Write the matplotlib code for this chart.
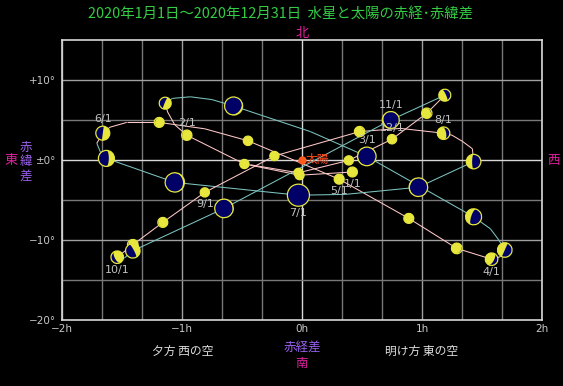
import numpy as np
import matplotlib
matplotlib.use("Agg")
import matplotlib.pyplot as plt
import matplotlib.transforms as mtransforms
from matplotlib.patches import Circle, Polygon
from matplotlib.collections import LineCollection

plt.rcParams['font.family'] = ['Noto Sans CJK JP', 'DejaVu Sans']

# Mercury on the 1st, 11th and 21st of each month
dates = ["1/1", "1/11", "1/21", "2/1", "2/11", "2/21", "3/1", "3/11", "3/21",
         "4/1", "4/11", "4/21", "5/1", "5/11", "5/21", "6/1", "6/11", "6/21",
         "7/1", "7/11", "7/21", "8/1", "8/11", "8/21", "9/1", "9/11", "9/21",
         "10/1", "10/11", "10/21", "11/1", "11/11", "11/21", "12/1", "12/11", "12/21"]
ra_diff = [0.42, -0.02, -0.48, -0.96, -1.14, -0.57, 0.54, 1.43, 1.69,
           1.58, 1.29, 0.89, 0.31, -0.45, -1.19, -1.66, -1.63, -1.06,
           -0.03, 0.97, 1.43, 1.18, 0.48, -0.23, -0.81, -1.16, -1.41,
           -1.54, -1.41, -0.65, 0.74, 1.19, 1.04, 0.75, 0.39, -0.03]
dec_diff = [-1.5, -1.9, -0.5, 3.1, 7.1, 6.75, 0.45, -7.1, -11.25,
            -12.4, -11.05, -7.3, -2.4, 2.4, 4.7, 3.35, 0.2, -2.8,
            -4.4, -3.4, -0.2, 3.35, 3.55, 0.5, -4.05, -7.8, -10.6,
            -12.15, -11.35, -6.05, 5.0, 8.1, 5.85, 2.6, -0.05, -1.6]
diam = [5.4, 4.9, 5.0, 5.6, 6.5, 9.8, 10.1, 8.7, 7.9,
        6.8, 5.8, 5.4, 5.4, 5.1, 5.4, 7.6, 8.7, 10.5,
        12.0, 10.1, 7.9, 6.8, 5.6, 5.0, 5.0, 5.4, 5.8,
        6.8, 7.9, 10.1, 9.2, 6.5, 5.6, 5.1, 5.0, 4.9]
illum = [1.0, 1.0, 1.0, 0.95, 0.55, 0.08, 0.03, 0.35, 0.5,
         0.7, 0.92, 0.97, 1.0, 1.0, 0.92, 0.5, 0.35, 0.08,
         0.0, 0.05, 0.4, 0.7, 0.95, 1.0, 1.0, 0.95, 0.88,
         0.7, 0.42, 0.05, 0.08, 0.6, 0.9, 0.97, 1.0, 1.0]

# daily track of Mercury
track_ra = [0.42, -0.02, -0.48, -0.96, -1.06, -1.12, -1.14, -1.08, -0.93, -0.75,
            -0.57, 0.07, 0.54, 1.43, 1.57, 1.64, 1.69, 1.65, 1.58, 1.29, 0.89,
            0.31, -0.45, -0.81, -1.19, -1.46, -1.6, -1.66, -1.71, -1.68, -1.63,
            -1.06, -0.03, 0.36, 0.97, 1.43, 1.42, 1.34, 1.25, 1.18, 0.82, 0.48,
            -0.23, -0.81, -1.16, -1.41, -1.54, -1.48, -1.41, -0.65, 0.74, 1.19,
            1.04, 0.75, 0.39, -0.03, -0.43]
track_dec = [-1.5, -1.9, -0.5, 3.1, 4.4, 6.0, 7.1, 7.7, 7.9, 7.55,
             6.75, 3.55, 0.45, -7.1, -8.6, -10.0, -11.25, -12.1, -12.4, -11.05, -7.3,
             -2.4, 2.4, 3.9, 4.7, 4.7, 4.1, 3.35, 2.1, 1.0, 0.2,
             -2.8, -4.4, -4.3, -3.4, -0.2, 1.4, 2.3, 3.1, 3.35, 3.95, 3.55,
             0.5, -4.05, -7.8, -10.6, -12.15, -12.25, -11.35, -6.05, 5.0, 8.1,
             5.85, 2.6, -0.05, -1.6, -0.6]

label_above = ["2/1", "3/1", "6/1", "8/1", "11/1", "12/1"]
label_below = ["1/1", "4/1", "5/1", "7/1", "9/1", "10/1"]

yellow = '#e6e63c'
navy = '#000066'
pink = '#ffc8c8'
teal = '#7cc4c0'

fig = plt.figure(figsize=(5.63, 3.86), dpi=100, facecolor='black')
ax = fig.add_axes([62/563, 66/386, 480/563, 280/386])
ax.set_facecolor('black')
ax.set_xlim(-2, 2)
ax.set_ylim(-20, 15)

# grid: every 20 min in RA, every 5 deg in dec
for gx in np.arange(-2, 2.01, 1/3):
    if abs(gx) < 1e-6:
        c = '#d8d8d8'
    elif abs(gx - round(gx)) < 1e-6:
        c = '#a0a0a0'
    else:
        c = '#787878'
    ax.axvline(gx, color=c, lw=1, zorder=1)
for gy in range(-15, 15, 5):
    if gy == 0:
        c = '#d8d8d8'
    elif gy % 10 == 0:
        c = '#a0a0a0'
    else:
        c = '#787878'
    ax.axhline(gy, color=c, lw=1, zorder=1)

for s in ax.spines.values():
    s.set_color('#d8d8d8')
    s.set_linewidth(1.2)

ax.set_xticks([-2, -1, 0, 1, 2])
ax.set_xticklabels(['−2h', '−1h', '0h', '1h', '2h'], family='DejaVu Sans')
ax.set_yticks([10, 0, -10, -20])
ax.set_yticklabels(['+10°', '±0°', '−10°', '−20°'], family='DejaVu Sans')
ax.tick_params(length=0, colors='#c8c8c8', labelsize=7.5)
ax.tick_params(axis='x', pad=3)
ax.tick_params(axis='y', pad=4)

# track, pink when moving toward the evening side, teal otherwise
pts = np.column_stack([track_ra, track_dec])
segs = [pts[i:i + 2] for i in range(len(pts) - 1)]
cols = [pink if track_ra[i + 1] < track_ra[i] else teal for i in range(len(pts) - 1)]
ax.add_collection(LineCollection(segs, colors=cols, linewidths=0.75, zorder=2))

# sun
ax.plot(0, 0, 'o', color='#ff5a1e', ms=6, mec='none', zorder=6)
ax.annotate('太陽', (0, 0), xytext=(4, 0), textcoords='offset pixels',
            color='#ff4a1a', fontsize=8.5, va='center', ha='left', zorder=7)

# Mercury with phases
th1 = np.linspace(-np.pi/2, np.pi/2, 40)
th2 = th1[::-1]
p_sun = ax.transData.transform((0, 0))
for x, d, dm, k, lab in zip(ra_diff, dec_diff, diam, illum, dates):
    r = dm * 0.92
    p = ax.transData.transform((x, d))
    ang = np.arctan2(p_sun[1] - p[1], p_sun[0] - p[0])
    tr = (mtransforms.Affine2D().scale(r).rotate(ang)
          + mtransforms.ScaledTranslation(x, d, ax.transData))
    ax.add_patch(Circle((0, 0), 1, transform=tr, facecolor=navy,
                        edgecolor='none', zorder=3))
    lit = np.concatenate([np.column_stack([np.cos(th1), np.sin(th1)]),
                          np.column_stack([-(2*k - 1)*np.cos(th2), np.sin(th2)])])
    if k > 0.01:
        ax.add_patch(Polygon(lit, closed=True, transform=tr, facecolor=yellow,
                             edgecolor='none', zorder=3))
    ax.add_patch(Circle((0, 0), 1, transform=tr, facecolor='none',
                        edgecolor=yellow, lw=0.9, zorder=3))
    if lab in label_above:
        ax.annotate(lab, (x, d), xytext=(0, r + 2), textcoords='offset pixels',
                    ha='center', va='bottom', color='#c0c0c0', fontsize=8,
                    family='DejaVu Sans', zorder=8)
    elif lab in label_below:
        ax.annotate(lab, (x, d), xytext=(0, -r - 2), textcoords='offset pixels',
                    ha='center', va='top', color='#c0c0c0', fontsize=8,
                    family='DejaVu Sans', zorder=8)

# surrounding texts
fig.text(281/563, 1 - 15/386, '2020年1月1日～2020年12月31日  水星と太陽の赤経･赤緯差',
         color='#33cc44', fontsize=10.4, ha='center', va='center')
fig.text(302/563, 1 - 33/386, '北', color='#e020a0', fontsize=9.5, ha='center', va='center')
fig.text(302/563, 1 - 347/386, '赤経差', color='#9a60f0', fontsize=9, ha='center', va='center')
fig.text(302/563, 1 - 363/386, '南', color='#e020a0', fontsize=9, ha='center', va='center')
fig.text(11/563, 1 - 161/386, '東', color='#e020a0', fontsize=9.5, ha='center', va='center')
for ch, yy in zip('赤緯差', [147, 161.5, 176]):
    fig.text(26/563, 1 - yy/386, ch, color='#9a60f0', fontsize=9, ha='center', va='center')
fig.text(553/563, 1 - 161/386, '西', color='#e020a0', fontsize=9, ha='center', va='center')
fig.text(183/563, 1 - 351/386, '夕方 西の空', color='#e0e0e0', fontsize=8.5, ha='center', va='center')
fig.text(422/563, 1 - 351/386, '明け方 東の空', color='#e0e0e0', fontsize=8.5, ha='center', va='center')

fig.savefig('out.png', dpi=100, facecolor='black')
